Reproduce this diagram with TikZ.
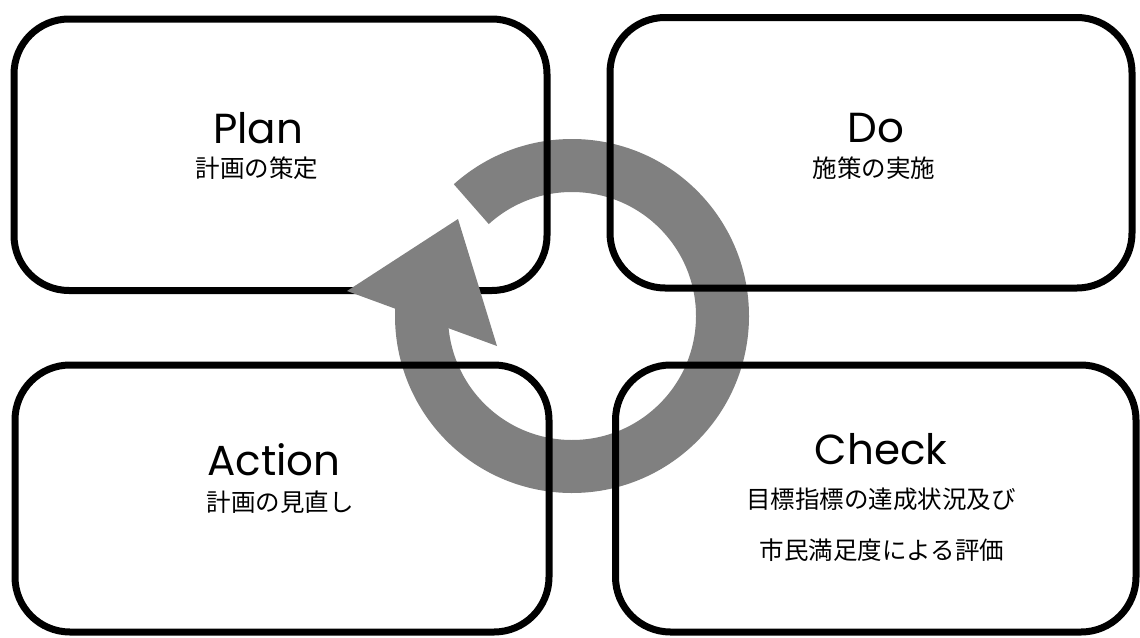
\documentclass[tikz,border=0pt]{standalone}
\usepackage{fontspec}
\newfontfamily\hdr{Poppins}
\newfontfamily\jp{Noto Sans CJK JP}
\definecolor{ringgray}{HTML}{808080}
\tikzset{
  box/.style={draw=black, line width=7pt, rounded corners=55pt, inner sep=0pt, fill=none},
  head/.style={font=\hdr\fontsize{42}{48}\selectfont, inner sep=0pt, anchor=center},
  sub/.style={font=\jp\fontsize{24.5}{28}\selectfont, inner sep=0pt, anchor=center},
  ringband/.style={draw=ringgray, line width=53pt, line cap=butt},
  arrowtip/.style={fill=ringgray, draw=none}
}
\begin{document}
\begin{tikzpicture}[x=1pt,y=1pt]
\useasboundingbox (0,0) rectangle (1140,-637);
% ring
\draw[ringband] (572,-316) ++(132:150.5) arc[start angle=132, end angle=-185, radius=150.5pt];
% boxes
\node[box, minimum width=533pt, minimum height=271.5pt] (planbox) at (280.5,-154.75) {};
\node[box, minimum width=522pt, minimum height=270.5pt] (dobox) at (871,-152.75) {};
\node[box, minimum width=534pt, minimum height=267pt] (actionbox) at (282,-498.5) {};
\node[box, minimum width=520.5pt, minimum height=267pt] (checkbox) at (875.75,-498.5) {};
% arrowhead
\coordinate (tipA) at (347,-291);
\coordinate (tipB) at (458,-219);
\coordinate (tipC) at (497,-346);
\fill[arrowtip] (tipA) -- (tipB) -- (tipC) -- cycle;
% texts
\node[head] (plan) at (258,-128) {Plan};
\node[sub] (plansub) at (257,-168) {計画の策定};
\node[head] (do) at (876,-128) {Do};
\node[sub] (dosub) at (874,-168) {施策の実施};
\node[head] (action) at (274,-460) {Action};
\node[sub] (actionsub) at (280,-502) {計画の見直し};
\node[head] (check) at (881,-449) {Check};
\node[sub] (checksub1) at (881,-499) {目標指標の達成状況及び};
\node[sub] (checksub2) at (882,-550) {市民満足度による評価};
\end{tikzpicture}
\end{document}
